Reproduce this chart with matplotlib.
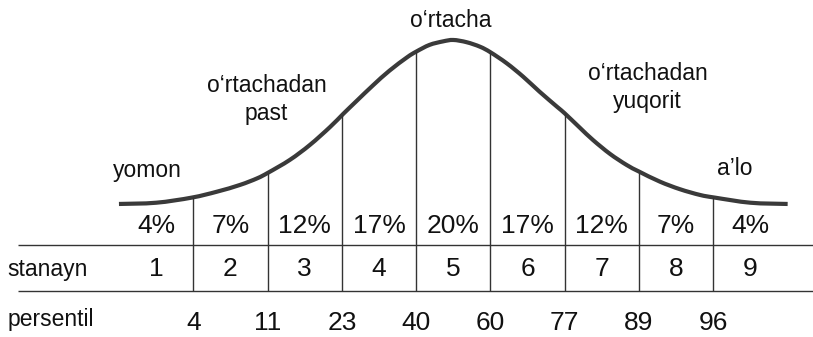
import numpy as np
import matplotlib
matplotlib.use("Agg")
import matplotlib.pyplot as plt
from matplotlib.path import Path
from matplotlib.patches import PathPatch

# bell curve: z position and height (peak = 100)
curve_z = [-2.25, -2.0, -1.76, -1.59, -1.435, -1.32, -1.245, -1.10, -0.965, -0.83, -0.74,
           -0.65, -0.54, -0.43, -0.31, -0.25, -0.16, -0.07, 0.0, 0.09, 0.18, 0.25, 0.36,
           0.47, 0.58, 0.70, 0.75, 0.85, 0.94, 1.055, 1.167, 1.25, 1.39, 1.525, 1.66, 1.76,
           2.0, 2.25]
curve_h = [20.0, 20.6, 23.1, 26.0, 29.3, 32.5, 35.3, 41.5, 48.8, 57.5, 64.0,
           70.3, 77.9, 85.0, 91.6, 94.3, 97.6, 99.3, 100.0, 98.9, 96.7, 94.0, 88.6,
           82.1, 74.8, 67.3, 64.2, 57.3, 51.2, 44.4, 39.0, 35.8, 30.9, 27.2, 24.4, 23.1,
           20.6, 20.0]

bounds = [-1.75, -1.25, -0.75, -0.25, 0.25, 0.75, 1.25, 1.75]
percents = [4, 7, 12, 17, 20, 17, 12, 7, 4]
stanines = [1, 2, 3, 4, 5, 6, 7, 8, 9]
percentiles = [4, 11, 23, 40, 60, 77, 89, 96]

plt.rcParams['font.family'] = ['Liberation Sans', 'DejaVu Sans']
line_col = '#333333'
txt_col = '#111111'
num_fs = 19
lab_fs = 16.5

fig = plt.figure(figsize=(8.13, 3.37), dpi=100)
ax = fig.add_axes([0, 0, 1, 1])
ax.set_xlim(-3.0505, 2.4206)
ax.set_ylim(-44.9, 119.5)
ax.axis('off')

# curve through the read points, drawn as smooth bezier segments (catmull-rom)
pts = np.column_stack([curve_z, curve_h])
ext = np.vstack([pts[0], pts, pts[-1]])
verts = [pts[0]]
codes = [Path.MOVETO]
for i in range(len(pts) - 1):
    p0, p1, p2, p3 = ext[i], ext[i + 1], ext[i + 2], ext[i + 3]
    verts += [p1 + (p2 - p0) / 6, p2 - (p3 - p1) / 6, p2]
    codes += [Path.CURVE4] * 3
ax.add_patch(PathPatch(Path(verts, codes), fill=False, edgecolor='#3a3a3a', lw=3.0,
                       capstyle='butt', joinstyle='round'))

# vertical dividers from the curve down to the bottom rule
tops = np.interp(bounds, curve_z, curve_h)
ax.vlines(bounds, -22.3, tops, color=line_col, lw=1.0)

# table rules
ax.hlines([0, -22.3], -2.93, 2.45, color=line_col, lw=1.0)

edges = [curve_z[0]] + bounds + [curve_z[-1]]
centers = [(a + b) / 2 for a, b in zip(edges[:-1], edges[1:])]

for c, p in zip(centers, percents):
    ax.text(c, 5.9, f"{p}%", ha='center', va='baseline', fontsize=num_fs, color=txt_col)
for c, s in zip(centers, stanines):
    ax.text(c, -15.1, str(s), ha='center', va='baseline', fontsize=num_fs, color=txt_col)
for b, p in zip(bounds, percentiles):
    ax.text(b, -41.5, str(p), ha='center', va='baseline', fontsize=num_fs, color=txt_col)

ax.text(-3.0, -15.1, "stanayn", ha='left', va='baseline', fontsize=lab_fs, color=txt_col)
ax.text(-3.0, -39.5, "persentil", ha='left', va='baseline', fontsize=lab_fs, color=txt_col)

# category labels over the curve
ax.text(-0.02, 106.5, "o\u2018rtacha", ha='center', va='baseline', fontsize=lab_fs, color=txt_col)
ax.text(-1.257, 74.8, "o\u2018rtachadan", ha='center', va='baseline', fontsize=lab_fs, color=txt_col)
ax.text(-1.257, 61.0, "past", ha='center', va='baseline', fontsize=lab_fs, color=txt_col)
ax.text(1.307, 80.5, "o\u2018rtachadan", ha='center', va='baseline', fontsize=lab_fs, color=txt_col)
ax.text(1.307, 66.7, "yuqorit", ha='center', va='baseline', fontsize=lab_fs, color=txt_col)
ax.text(-2.061, 33.3, "yomon", ha='center', va='baseline', fontsize=lab_fs, color=txt_col)
ax.text(1.896, 34.1, "a\u2019lo", ha='center', va='baseline', fontsize=lab_fs, color=txt_col)

fig.savefig('out.png', dpi=100, facecolor='white')
